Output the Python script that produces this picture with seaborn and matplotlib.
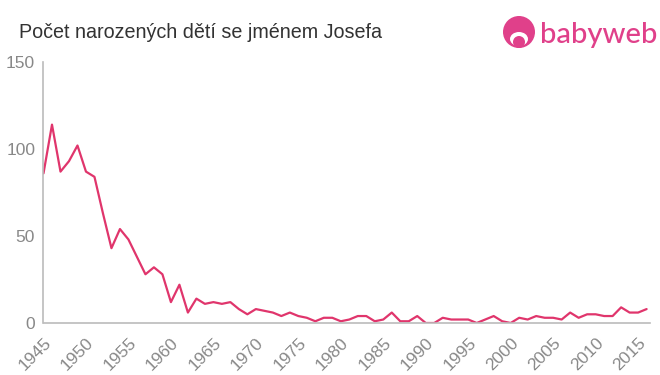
import matplotlib
matplotlib.use("Agg")
import matplotlib.pyplot as plt
import seaborn as sns
import pandas as pd
from matplotlib.patches import Circle, Ellipse

years = list(range(1945, 2017))
counts = [86, 114, 87, 93, 102, 87, 84, 63, 43, 54, 48, 38, 28, 32, 28, 12,
          22, 6, 14, 11, 12, 11, 12, 8, 5, 8, 7, 6, 4, 6, 4, 3, 1, 3, 3, 1,
          2, 4, 4, 1, 2, 6, 1, 1, 4, 0, 0, 3, 2, 2, 2, 0, 2, 4, 1, 0,
          3, 2, 4, 3, 3, 2, 6, 3, 5, 5, 4, 4, 9, 6, 6, 8]
tick_years = list(range(1945, 2016, 5))

df = pd.DataFrame({"rok": years, "pocet": counts})

sns.set_style("white")
plt.rcParams['font.family'] = ['Liberation Sans', 'DejaVu Sans']

W, H = 660, 375
fig = plt.figure(figsize=(6.6, 3.75), dpi=100)
ax = fig.add_axes([43.5 / W, 1 - 323 / H, (650 - 43.5) / W, (323 - 62) / H])

sns.lineplot(data=df, x="rok", y="pocet", ax=ax, color="#e0356c", linewidth=1.6)

ax.set_xlim(1945, 2016.4)
ax.set_ylim(0, 150)
ax.set_yticks([0, 50, 100, 150])
ax.set_xticks(tick_years)
ax.set_xticklabels([str(y) for y in tick_years], rotation=45, ha="right",
                   rotation_mode="anchor")
ax.set_xlabel("")
ax.set_ylabel("")
for s in ["top", "right"]:
    ax.spines[s].set_visible(False)
for s in ["left", "bottom"]:
    ax.spines[s].set_color("#bbbbbb")
    ax.spines[s].set_linewidth(1.2)
ax.tick_params(axis="both", colors="#bbbbbb", labelcolor="#888888",
               labelsize=12.5, length=5, width=1.2, direction="out")
ax.tick_params(axis="y", length=4, pad=2)

fig.text(19 / W, 1 - 32 / H, "Počet narozených dětí se jménem Josefa",
         fontsize=14.2, color="#333333", ha="left", va="center")

# logo
pink = "#e0408a"
lax = fig.add_axes([500 / W, 1 - 50 / H, 38 / W, 36 / H])
lax.set_xlim(-19, 19)
lax.set_ylim(-18, 18)
lax.set_aspect("equal")
lax.axis("off")
lax.add_patch(Circle((0, 0), 16, color=pink, ec="none"))
lax.add_patch(Ellipse((0, -7), 18, 14, color="white", ec="none"))
lax.add_patch(Circle((0, -10), 6, color=pink, ec="none"))
fig.text(540 / W, 1 - 35 / H, "babyweb", fontsize=21, color=pink,
         family=["Lato", "DejaVu Sans"], weight="medium", ha="left", va="center")

fig.savefig("out.png", dpi=100)
